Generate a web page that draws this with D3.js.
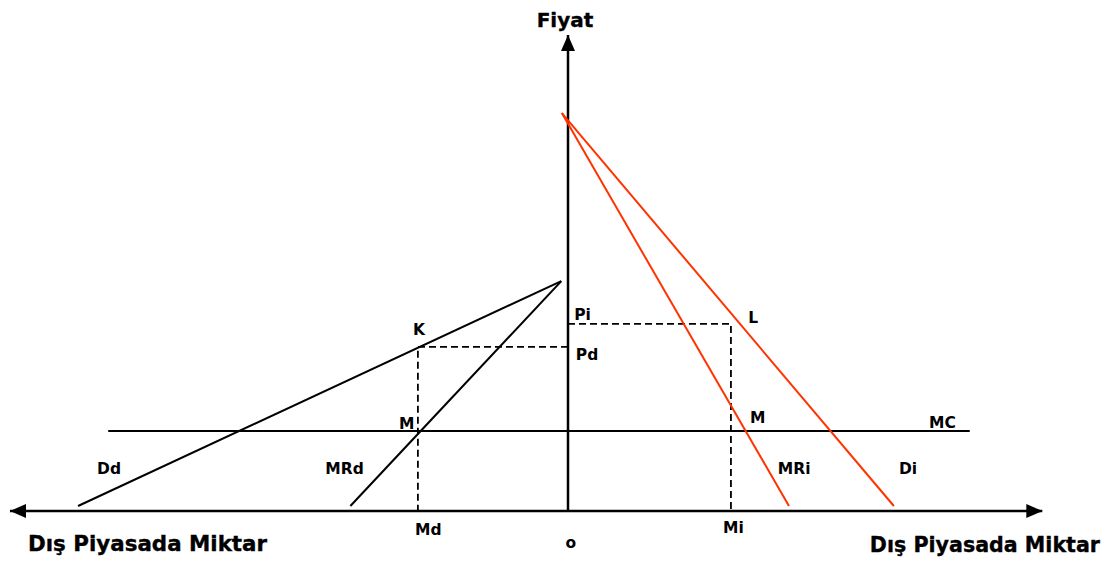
<!DOCTYPE html>
<html>
<head>
<meta charset="utf-8">
<script src="https://cdn.jsdelivr.net/npm/d3@7"></script>
<style>
  html, body { margin: 0; padding: 0; background: #fff; }
  svg { display: block; }
  text { font-family: "DejaVu Sans", Verdana, sans-serif; font-weight: bold; fill: #000; }
  text.title { stroke: #000; stroke-width: 0.35; }
</style>
</head>
<body>
<svg id="chart" width="1105" height="561"></svg>
<script>
// Quantity (left = foreign market, right = home market) and price units
const qDomain = [-100, 85];
const pDomain = [0, 100];

// Demand and marginal revenue curves: start (intercept) and end points
const curveNames = ["Dd", "MRd", "MRi", "Di"];
const curveStartQ = [-1.2, -1.2, -1.1, -1.1];
const curveStartP = [48.3, 48.3, 83.6, 83.6];
const curveEndQ = [-87.8, -39.0, 39.6, 58.4];
const curveEndP = [1.05, 1.05, 1.05, 1.05];
const curveColors = ["#000000", "#000000", "#ff3300", "#ff3300"];

// Marginal cost level and its extent
const mcLevel = 16.8;
const mcExtent = [-82.4, 72];

// Equilibrium prices and quantities for each market
const marketNames = ["d", "i"];
const marketPrice = [34.5, 39.3];
const marketQty = [-26.9, 29.2];

// Point and curve labels (text, quantity, price)
const labelText = ["K", "Pi", "Pd", "M", "M", "MC", "L", "Dd", "MRd", "MRi", "Di", "Md", "Mi"];
const labelQ = [-27.8, 1.1, 1.4, -30.3, 32.6, 64.7, 32.3, -84.4, -43.5, 37.6, 59.3, -27.4, 27.8];
const labelP = [37.0, 40.1, 31.7, 17.2, 18.5, 17.4, 39.5, 7.8, 7.8, 7.8, 7.8, -5.0, -4.6];

const svg = d3.select("#chart");

const x = d3.scaleLinear().domain(qDomain).range([10, 1042.3]);
const y = d3.scaleLinear().domain(pDomain).range([511, 35]);

// Arrowheads
const defs = svg.append("defs");
defs.append("marker")
  .attr("id", "arrow")
  .attr("viewBox", "0 0 16 14")
  .attr("refX", 16).attr("refY", 7)
  .attr("markerWidth", 16).attr("markerHeight", 14)
  .attr("markerUnits", "userSpaceOnUse")
  .attr("orient", "auto-start-reverse")
  .append("path")
  .attr("d", "M0,0 L16,7 L0,14 Z")
  .attr("fill", "#000");

// Horizontal quantity axis with arrows at both ends
svg.append("line")
  .attr("x1", x(qDomain[0])).attr("y1", y(0))
  .attr("x2", x(qDomain[1])).attr("y2", y(0))
  .attr("stroke", "#000").attr("stroke-width", 2.5)
  .attr("marker-start", "url(#arrow)")
  .attr("marker-end", "url(#arrow)");

// Vertical price axis
svg.append("line")
  .attr("x1", x(0)).attr("y1", y(0))
  .attr("x2", x(0)).attr("y2", y(pDomain[1]))
  .attr("stroke", "#000").attr("stroke-width", 2.5)
  .attr("marker-end", "url(#arrow)");

// Marginal cost
svg.append("line")
  .attr("x1", x(mcExtent[0])).attr("y1", y(mcLevel))
  .attr("x2", x(mcExtent[1])).attr("y2", y(mcLevel))
  .attr("stroke", "#000").attr("stroke-width", 2);

// Price / quantity guides for each market
const guides = svg.append("g")
  .attr("fill", "none").attr("stroke", "#000")
  .attr("stroke-width", 1.8).attr("stroke-dasharray", "7,4");
marketNames.forEach((m, i) => {
  guides.append("path")
    .attr("d", d3.line()([
      [x(0), y(marketPrice[i])],
      [x(marketQty[i]), y(marketPrice[i])],
      [x(marketQty[i]), y(0)]
    ]));
});

// Demand and marginal revenue curves
curveNames.forEach((n, i) => {
  svg.append("line")
    .attr("x1", x(curveStartQ[i])).attr("y1", y(curveStartP[i]))
    .attr("x2", x(curveEndQ[i])).attr("y2", y(curveEndP[i]))
    .attr("stroke", curveColors[i]).attr("stroke-width", 2);
});

// Labels
labelText.forEach((t, i) => {
  svg.append("text")
    .attr("x", x(labelQ[i])).attr("y", y(labelP[i]))
    .attr("font-size", 15.5)
    .text(t);
});

svg.append("text")
  .attr("x", x(0.5)).attr("y", 548)
  .attr("text-anchor", "middle")
  .attr("font-size", 15.5)
  .text("o");

// Axis titles
svg.append("text")
  .attr("class", "title")
  .attr("x", 565).attr("y", 27)
  .attr("text-anchor", "middle")
  .attr("font-size", 20)
  .text("Fiyat");

svg.append("text")
  .attr("class", "title")
  .attr("x", 28).attr("y", 551)
  .attr("font-size", 21.4)
  .text("Dış Piyasada Miktar");

svg.append("text")
  .attr("class", "title")
  .attr("x", 1100).attr("y", 552)
  .attr("text-anchor", "end")
  .attr("font-size", 20.6)
  .text("Dış Piyasada Miktar");
</script>
</body>
</html>
